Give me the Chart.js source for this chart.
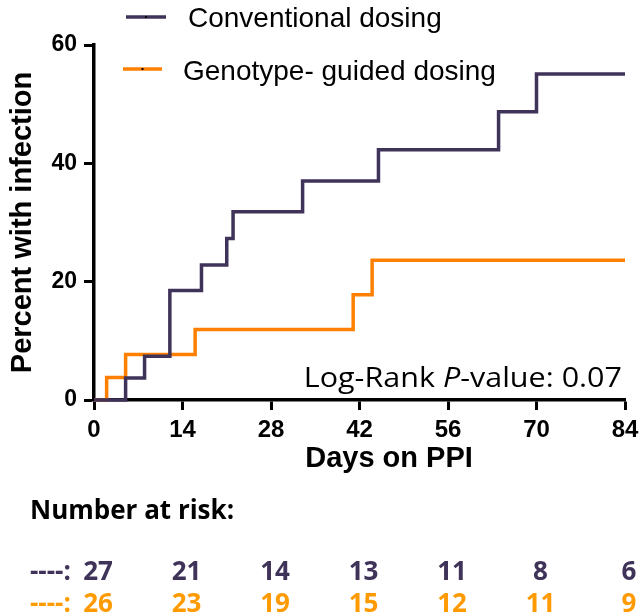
<!DOCTYPE html>
<html>
<head>
<meta charset="utf-8">
<script src="https://cdn.jsdelivr.net/npm/chart.js@4/dist/chart.umd.min.js"></script>
<style>
  html, body { margin: 0; padding: 0; background: #fff; }
  #wrap { width: 639px; height: 613px; }
</style>
</head>
<body>
<div id="wrap"><canvas id="km"></canvas></div>
<script>
// Kaplan-Meier style step data (days, percent with infection)
const convDays = [0, 5, 8, 12, 17, 21, 22, 33, 45, 64, 70, 84];
const convPct = [0, 3.7, 7.4, 18.5, 22.8, 27.3, 31.8, 37.0, 42.3, 48.7, 55.1, 55.1];
const genoDays = [0, 2, 5, 16, 41, 44, 84];
const genoPct = [0, 3.8, 7.7, 11.9, 17.8, 23.6, 23.6];

// number at risk table
const riskDays = [0, 14, 28, 42, 56, 70, 84];
const riskConv = [27, 21, 14, 13, 11, 8, 6];
const riskGeno = [26, 23, 19, 15, 12, 11, 9];

const seriesNames = ['Conventional dosing', 'Genotype- guided dosing'];
const purple = '#3f3359';
const orange = '#ff8000';
const orangeText = '#ff9a00';

const arial = 'Arial, "Liberation Sans", sans-serif';
const calibri = '"Open Sans", Lato, sans-serif';

function pts(xs, ys) {
  return xs.map((x, i) => ({ x: x, y: ys[i] }));
}

const extras = {
  id: 'extras',
  afterDraw(chart) {
    const ctx = chart.ctx;
    const xs = chart.scales.x;
    ctx.save();

    // legend
    const leg = [
      { color: purple, x0: 126, x1: 166, y: 17, tx: 188, ty: 27 },
      { color: orange, x0: 123, x1: 162, y: 69, tx: 183, ty: 80 }
    ];
    leg.forEach((l, i) => {
      ctx.strokeStyle = l.color;
      ctx.lineWidth = 3.5;
      ctx.beginPath();
      ctx.moveTo(l.x0, l.y);
      ctx.lineTo(l.x1, l.y);
      ctx.stroke();
      ctx.fillStyle = '#000';
      ctx.fillRect((l.x0 + l.x1) / 2 - 1, l.y - 1, 2, 2);
      ctx.font = '28px ' + arial;
      ctx.textAlign = 'left';
      ctx.textBaseline = 'alphabetic';
      ctx.fillText(seriesNames[i], l.tx, l.ty);
    });

    // x axis title (sits right of centre in the original)
    ctx.font = 'bold 29px ' + arial;
    ctx.textAlign = 'center';
    ctx.fillStyle = '#000';
    ctx.fillText('Days on PPI', 389, 467);

    // p-value, a little stretched like the source text
    ctx.save();
    ctx.translate(622, 387);
    ctx.scale(1.13, 1);
    ctx.textAlign = 'right';
    ctx.font = '27px ' + calibri;
    const pre = 'Log-Rank ';
    const it = 'P';
    const post = '-value: 0.07';
    const wPost = ctx.measureText(post).width;
    ctx.fillText(post, 0, 0);
    ctx.font = 'italic 27px ' + calibri;
    const wIt = ctx.measureText(it).width;
    ctx.fillText(it, -wPost, 0);
    ctx.font = '27px ' + calibri;
    ctx.fillText(pre, -wPost - wIt, 0);
    ctx.restore();

    // number at risk
    ctx.font = 'bold 26px ' + calibri;
    ctx.textAlign = 'left';
    ctx.textBaseline = 'alphabetic';
    ctx.fillStyle = '#000';
    ctx.fillText('Number at risk:', 30, 519);
    const rows = [
      { vals: riskConv, color: purple, y: 580 },
      { vals: riskGeno, color: orangeText, y: 612 }
    ];
    rows.forEach(r => {
      ctx.fillStyle = r.color;
      ctx.textAlign = 'left';
      ctx.fillText('----:', 30, r.y);
      ctx.textAlign = 'center';
      r.vals.forEach((v, i) => {
        ctx.fillText(String(v), xs.getPixelForValue(riskDays[i]) + 4, r.y);
      });
    });
    ctx.restore();
  }
};

new Chart(document.getElementById('km'), {
  type: 'line',
  data: {
    datasets: [
      {
        label: seriesNames[0],
        data: pts(convDays, convPct),
        borderColor: purple,
        borderWidth: 3.5,
        stepped: 'before',
        pointRadius: 0,
        fill: false,
        clip: 4
      },
      {
        label: seriesNames[1],
        data: pts(genoDays, genoPct),
        borderColor: orange,
        borderWidth: 3.5,
        stepped: 'before',
        pointRadius: 0,
        fill: false,
        clip: 4
      }
    ]
  },
  options: {
    responsive: true,
    maintainAspectRatio: false,
    animation: false,
    events: [],
    layout: { padding: { left: 0, right: 14, top: 45, bottom: 138 } },
    plugins: { legend: { display: false }, tooltip: { enabled: false } },
    scales: {
      x: {
        type: 'linear',
        min: 0,
        max: 84,
        afterFit: s => { s.height = 75; s.paddingLeft = 0; s.paddingRight = 0; },
        ticks: { stepSize: 14, color: '#000', padding: 6, font: { family: arial, size: 24, weight: 'bold' } },
        grid: { drawOnChartArea: false, tickLength: 10, tickWidth: 3, color: '#000' },
        border: { display: true, width: 3.5, color: '#000' }
      },
      y: {
        min: 0,
        max: 60,
        afterFit: s => { s.width = 94; s.paddingTop = 0; s.paddingBottom = 0; },
        ticks: { stepSize: 20, color: '#000', padding: 7, font: { family: arial, size: 23, weight: 'bold' } },
        grid: { drawOnChartArea: false, tickLength: 10, tickWidth: 3, color: '#000' },
        border: { display: true, width: 3.5, color: '#000' },
        title: { display: true, text: 'Percent with infection', color: '#000', padding: { top: 6, bottom: 0 }, font: { family: arial, size: 29, weight: 'bold' } }
      }
    }
  },
  plugins: [extras]
});
</script>
</body>
</html>
